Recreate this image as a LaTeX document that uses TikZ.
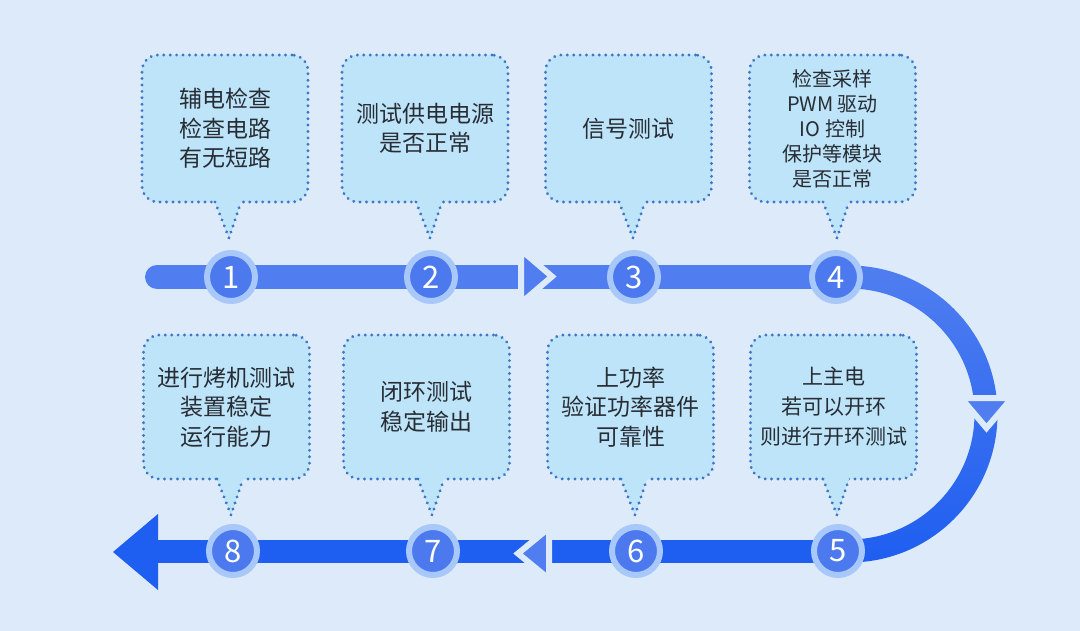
\documentclass[tikz,border=0pt]{standalone}
\usepackage{fontspec}
\setmainfont{Noto Sans CJK SC}
\usetikzlibrary{calc}
\definecolor{bg}{RGB}{221,234,250}
\definecolor{boxfill}{RGB}{190,228,250}
\definecolor{dotcol}{RGB}{60,120,200}
\definecolor{barTop}{RGB}{80,126,240}
\definecolor{barBot}{RGB}{30,94,240}
\definecolor{ringcol}{RGB}{168,200,250}
\definecolor{numfill}{RGB}{76,122,238}
\definecolor{txt}{RGB}{40,45,52}
\tikzset{
  dotline/.style={draw=dotcol, line width=3.2pt, dash pattern=on 0.01pt off 6.4pt, line cap=round},
  callout/.style={rectangle, rounded corners=16pt, dotline, fill=boxfill, minimum width=166pt,
     inner sep=0pt, text=txt, align=center, font=\fontsize{23}{29.5}\selectfont},
  topbox/.style={callout, minimum height=147pt},
  botbox/.style={callout, minimum height=144pt},
  num/.style={circle, minimum size=48pt, inner sep=0pt, fill=numfill, draw=ringcol, line width=6pt,
     text=white, font=\fontsize{31}{32}\selectfont},
  chev/.style={draw=bg, line width=6pt, line join=miter}
}
\newcommand\callptr[1]{%
  \fill[boxfill] ($(#1)+(-13,-40)$) -- ($(#1)+(-14,-36)$) -- (#1) -- ($(#1)+(12,-36)$) -- ($(#1)+(11,-40)$) -- cycle;
  \draw[dotline] ($(#1)+(-14,-36)$) -- (#1) -- ($(#1)+(12,-36)$);}
\begin{document}
\begin{tikzpicture}[x=1pt,y=-1pt]
\fill[bg] (0,0) rectangle (1080,631);
\useasboundingbox (0,0) rectangle (1080,631);
% track coordinates
\coordinate (tstart) at (157,277);
\coordinate (tend) at (849,277);
\coordinate (bstart) at (156,551);
\coordinate (bend) at (849,551);
\coordinate (arcc) at (849,414);
% top bar
\draw[barTop, line width=24pt, line cap=round] (tstart) -- (tend);
% bottom bar
\draw[barBot, line width=23pt] (bstart) -- (bend);
% right arc (shaded annulus)
\shade[top color=barTop, bottom color=barBot]
  (849,265.5) arc[start angle=-90, end angle=90, radius=148.5]
  -- (849,539.5) arc[start angle=90, end angle=-90, radius=125.5] -- cycle;
% chevron arrows
\fill[barTop, chev] (521,250) -- (552,276.5) -- (521,303) -- cycle;
\fill[barTop, chev] (549,528) -- (518,553.5) -- (549,579) -- cycle;
\fill[barTop, chev] (961,398) -- (1012,398) -- (986.5,428) -- cycle;
% big left arrow head
\fill[barBot] (158,514) -- (113,552) -- (158,590) -- cycle;
% number circles
\node[num] (c1) at (231,277) {1};
\node[num] (c2) at (431,277) {2};
\node[num] (c3) at (634,277) {3};
\node[num] (c4) at (836,277) {4};
\node[num] (c5) at (838,551) {5};
\node[num] (c6) at (636,551) {6};
\node[num] (c7) at (433,551) {7};
\node[num] (c8) at (233,551) {8};
% callout boxes
\node[topbox] (b1) at (225,128.5) {辅电检查\\检查电路\\有无短路};
\node[topbox] (b2) at (425,128.5) {测试供电电源\\是否正常};
\node[topbox] (b3) at (628.5,128.5) {信号测试};
\node[topbox, font=\fontsize{20}{25}\selectfont] (b4) at (832.5,128.5) {检查采样\\PWM 驱动\\IO 控制\\保护等模块\\是否正常};
\node[botbox, font=\fontsize{21}{30}\selectfont] (b5) at (833.5,407) {上主电\\若可以开环\\则进行开环测试};
\node[botbox] (b6) at (630.5,407) {上功率\\验证功率器件\\可靠性};
\node[botbox] (b7) at (426.5,407) {闭环测试\\稳定输出};
\node[botbox] (b8) at (226.5,407) {进行烤机测试\\装置稳定\\运行能力};
% pointer tips
\coordinate (p1) at (229,238);
\coordinate (p2) at (430,238);
\coordinate (p3) at (633,238);
\coordinate (p4) at (837,238);
\coordinate (p5) at (837,515);
\coordinate (p6) at (635,515);
\coordinate (p7) at (432,515);
\coordinate (p8) at (231,515);
\callptr{p1}\callptr{p2}\callptr{p3}\callptr{p4}
\callptr{p5}\callptr{p6}\callptr{p7}\callptr{p8}
\end{tikzpicture}
\end{document}
